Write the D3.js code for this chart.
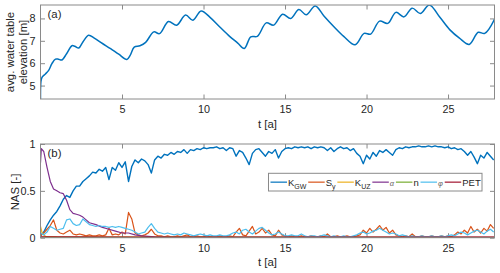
<!DOCTYPE html>
<html>
<head>
<meta charset="utf-8">
<script src="https://cdn.jsdelivr.net/npm/d3@7"></script>
<style>
  body { margin: 0; background: #fff; }
  text { font-family: "Liberation Sans", Arial, Helvetica, sans-serif; fill: #262626; }
</style>
</head>
<body>
<svg id="chart" width="500" height="273"></svg>
<script>
// ---- data ----
// (a) average water table elevation [m] vs time [a]
const headT = [0, 0.03, 0.1, 0.3, 0.5, 0.7, 0.92, 1.1, 1.3, 1.6, 1.93, 2.1, 2.35, 2.6, 2.95,
  3.3, 3.8, 4.3, 4.8, 5.3, 5.5, 5.75, 6.1, 6.45, 6.95, 7.3, 7.85, 8.35, 8.9, 9.35, 9.85,
  10.4, 11.0, 11.6, 12.1, 12.5, 12.9, 13.3, 13.85, 14.3, 14.85, 15.35, 15.85, 16.3, 16.85,
  17.4, 18.0, 18.6, 19.3, 19.85, 20.25, 20.8, 21.3, 21.8, 22.3, 22.8, 23.3, 23.85,
  24.5, 25.1, 25.7, 26.3, 26.85, 27.25, 27.85];
const headVal = [4.4, 5.2, 5.38, 5.52, 5.68, 5.98, 6.18, 6.18, 6.14, 6.42, 6.78, 6.76, 6.68, 6.95, 7.25,
  7.12, 6.88, 6.65, 6.4, 6.17, 6.35, 6.72, 6.78, 6.93, 7.40, 7.32, 7.86, 7.70, 8.15, 7.92, 8.33,
  8.05, 7.62, 7.2, 6.9, 6.66, 7.18, 7.2, 7.8, 7.7, 8.19, 8.0, 8.4, 8.16, 8.56,
  8.1, 7.63, 7.2, 6.82, 7.33, 7.3, 7.88, 7.78, 8.27, 8.07, 8.46, 8.22, 8.6,
  8.05, 7.5, 7.12, 6.84, 7.38, 7.33, 7.96];

// (b) NAS, sampled every 0.2 a
const nasStep = 0.2;
const kgw = [0.02, 0.06, 0.13, 0.19, 0.24, 0.28, 0.34, 0.41, 0.45, 0.43, 0.50, 0.55, 0.55, 0.60, 0.63,
  0.66, 0.70, 0.69, 0.73, 0.71, 0.75, 0.62, 0.75, 0.72, 0.80, 0.75, 0.81, 0.60, 0.76, 0.83,
  0.80, 0.84, 0.82, 0.78, 0.69, 0.83, 0.87, 0.85, 0.89, 0.88, 0.91, 0.89, 0.92, 0.91, 0.94,
  0.90, 0.94, 0.93, 0.95, 0.94, 0.96, 0.95, 0.96, 0.96, 0.97, 0.95, 0.96, 0.93, 0.96, 0.95,
  0.87, 0.93, 0.91, 0.85, 0.78, 0.90, 0.94, 0.95, 0.91, 0.87, 0.92, 0.90, 0.94, 0.85, 0.92,
  0.95, 0.96, 0.95, 0.97, 0.96, 0.97, 0.96, 0.97, 0.95, 0.97, 0.96, 0.97, 0.96, 0.93, 0.96,
  0.92, 0.95, 0.97, 0.95, 0.96, 0.93, 0.95, 0.90, 0.87, 0.79, 0.88, 0.84, 0.91, 0.87, 0.93,
  0.91, 0.94, 0.91, 0.88, 0.94, 0.96, 0.95, 0.97, 0.96, 0.97, 0.97, 0.98, 0.97, 0.97, 0.98,
  0.97, 0.98, 0.97, 0.97, 0.96, 0.97, 0.95, 0.96, 0.94, 0.95, 0.92, 0.88, 0.92, 0.86, 0.79,
  0.88, 0.85, 0.91, 0.87, 0.83];
const sy = [0.02, 0.05, 0.09, 0.13, 0.19, 0.08, 0.05, 0.04, 0.06, 0.08, 0.04, 0.03, 0.04, 0.03, 0.02,
  0.03, 0.02, 0.02, 0.03, 0.02, 0.03, 0.10, 0.03, 0.04, 0.03, 0.06, 0.04, 0.27, 0.20, 0.05,
  0.03, 0.02, 0.03, 0.05, 0.09, 0.04, 0.02, 0.02, 0.01, 0.02, 0.01, 0.01, 0.02, 0.01, 0.02,
  0.03, 0.01, 0.01, 0.02, 0.01, 0.01, 0.02, 0.01, 0.01, 0.01, 0.02, 0.01, 0.01, 0.02, 0.01,
  0.06, 0.10, 0.03, 0.02, 0.07, 0.12, 0.04, 0.06, 0.10, 0.05, 0.08, 0.03, 0.02, 0.08, 0.03,
  0.02, 0.01, 0.02, 0.01, 0.01, 0.02, 0.01, 0.01, 0.02, 0.01, 0.01, 0.02, 0.01, 0.04, 0.01,
  0.01, 0.02, 0.01, 0.01, 0.02, 0.01, 0.01, 0.02, 0.03, 0.08, 0.05, 0.10, 0.06, 0.09, 0.13,
  0.08, 0.11, 0.05, 0.08, 0.03, 0.02, 0.01, 0.02, 0.01, 0.04, 0.01, 0.01, 0.02, 0.01, 0.01,
  0.02, 0.01, 0.01, 0.02, 0.01, 0.02, 0.01, 0.03, 0.06, 0.04, 0.08, 0.05, 0.12, 0.06, 0.09,
  0.05, 0.10, 0.07, 0.14, 0.10];
const phi = [0.05, 0.03, 0.06, 0.12, 0.10, 0.08, 0.09, 0.10, 0.19, 0.20, 0.15, 0.13, 0.14, 0.20, 0.17,
  0.14, 0.13, 0.12, 0.13, 0.12, 0.12, 0.11, 0.12, 0.11, 0.12, 0.11, 0.10, 0.09, 0.08, 0.06,
  0.04, 0.05, 0.06, 0.11, 0.15, 0.10, 0.06, 0.05, 0.04, 0.05, 0.04, 0.03, 0.04, 0.03, 0.05,
  0.04, 0.03, 0.02, 0.03, 0.04, 0.03, 0.02, 0.03, 0.02, 0.02, 0.03, 0.02, 0.02, 0.03, 0.05,
  0.06, 0.04, 0.08, 0.09, 0.06, 0.04, 0.07, 0.10, 0.11, 0.08, 0.05, 0.03, 0.04, 0.06, 0.04,
  0.02, 0.02, 0.03, 0.02, 0.02, 0.04, 0.02, 0.01, 0.02, 0.02, 0.01, 0.02, 0.03, 0.02, 0.01,
  0.02, 0.01, 0.01, 0.02, 0.01, 0.01, 0.02, 0.03, 0.05, 0.06, 0.04, 0.05, 0.07, 0.08, 0.10,
  0.08, 0.06, 0.04, 0.05, 0.04, 0.02, 0.03, 0.02, 0.01, 0.02, 0.01, 0.01, 0.02, 0.01, 0.01,
  0.02, 0.01, 0.01, 0.02, 0.01, 0.02, 0.03, 0.02, 0.04, 0.06, 0.05, 0.03, 0.05, 0.07, 0.08,
  0.06, 0.04, 0.07, 0.09, 0.06];
// sparser series
const alphaT = [0, 0.05, 0.2, 0.4, 0.6, 0.8, 1.0, 1.2, 1.4, 1.6, 1.8, 2.0, 2.2, 2.4, 2.6, 2.8, 3.0,
  3.4, 3.8, 4.2, 4.6, 5.0, 5.4, 5.8, 6.2, 6.6, 7.0, 8.0, 27.85];
const alphaVal = [0.80, 0.95, 0.92, 0.75, 0.60, 0.52, 0.50, 0.48, 0.47, 0.40, 0.30, 0.26, 0.25, 0.24, 0.22, 0.19, 0.16,
  0.14, 0.11, 0.09, 0.07, 0.05, 0.05, 0.03, 0.02, 0.015, 0.01, 0.005, 0.005];
const kuzT = [0, 0.1, 0.3, 1.0, 27.85];
const kuzVal = [0.12, 0.05, 0.015, 0.008, 0.004];
const nT = [0, 27.85];
const nVal = [0.003, 0.002];
const petT = [0, 2, 6, 27.85];
const petVal = [0.01, 0.008, 0.006, 0.006];

const legendNames = [
  {main: "K", sub: "GW"}, {main: "S", sub: "y"}, {main: "K", sub: "UZ"},
  {main: "\u03B1", greek: true}, {main: "n"}, {main: "\u03C6", greek: true}, {main: "PET"}
];
const colors = ["#0072BD", "#D95319", "#EDB120", "#7E2F8E", "#77AC30", "#4DBEEE", "#A2142F"];

const xTicks = [5, 10, 15, 20, 25];

// ---- layout ----
const svg = d3.select("#chart");
const left = 40.5, right = 494.5;
const boxA = {top: 5, bottom: 99};
const boxB = {top: 144, bottom: 237.7};
const axisGrey = "#8a8a8a";

const x = d3.scaleLinear().domain([0, 27.85]).range([left, right]);
const yA = d3.scaleLinear().domain([4.4, 8.6]).range([boxA.bottom, boxA.top]);
const yB = d3.scaleLinear().domain([0, 1]).range([boxB.bottom, boxB.top]);

function drawFrame(box, y, yTicks, yFmt, id) {
  const g = svg.append("g");
  g.append("rect")
    .attr("x", left).attr("y", box.top)
    .attr("width", right - left).attr("height", box.bottom - box.top)
    .attr("fill", "#fff");

  const bottom = g.append("g").attr("transform", `translate(0,${box.bottom})`)
    .call(d3.axisBottom(x).tickValues(xTicks).tickSizeInner(-4.5).tickSizeOuter(0).tickPadding(6.5));
  const top = g.append("g").attr("transform", `translate(0,${box.top})`)
    .call(d3.axisTop(x).tickValues(xTicks).tickSizeInner(-4.5).tickSizeOuter(0).tickFormat(""));
  const leftAx = g.append("g").attr("transform", `translate(${left},0)`)
    .call(d3.axisLeft(y).tickValues(yTicks).tickSizeInner(-4.5).tickSizeOuter(0).tickPadding(5).tickFormat(yFmt));
  const rightAx = g.append("g").attr("transform", `translate(${right},0)`)
    .call(d3.axisRight(y).tickValues(yTicks).tickSizeInner(-4.5).tickSizeOuter(0).tickFormat(""));

  [bottom, top, leftAx, rightAx].forEach(a => {
    a.select(".domain").remove();
    a.selectAll(".tick line").attr("stroke", axisGrey);
    a.selectAll("text").attr("fill", "#262626").style("font-size", "10.8px")
      .style("font-family", '"Liberation Sans", Arial, sans-serif');
  });

  svg.append("clipPath").attr("id", id)
    .append("rect").attr("x", left).attr("y", box.top)
    .attr("width", right - left).attr("height", box.bottom - box.top);
  return g;
}

function drawBox(box) {
  svg.append("rect")
    .attr("x", left).attr("y", box.top)
    .attr("width", right - left).attr("height", box.bottom - box.top)
    .attr("fill", "none").attr("stroke", axisGrey).attr("stroke-width", 1);
}

// ---- panel (a) ----
drawFrame(boxA, yA, [5, 6, 7, 8], d3.format("d"), "clipA");
const headData = headT.map((t, i) => [t, headVal[i]]);
svg.append("path")
  .datum(headData)
  .attr("clip-path", "url(#clipA)")
  .attr("fill", "none")
  .attr("stroke", colors[0])
  .attr("stroke-width", 1.5)
  .attr("d", d3.line().x(d => x(d[0])).y(d => yA(d[1])).curve(d3.curveCatmullRom.alpha(0.5)));
drawBox(boxA);

svg.append("text").attr("x", 47.5).attr("y", 18).style("font-size", "11.4px").text("(a)");
svg.append("text").attr("x", (left + right) / 2).attr("y", 128)
  .attr("text-anchor", "middle").style("font-size", "11.4px").text("t [a]");
svg.append("text").attr("transform", "translate(14,52) rotate(-90)")
  .attr("text-anchor", "middle").style("font-size", "11.4px").text("avg. water table");
svg.append("text").attr("transform", "translate(27,52) rotate(-90)")
  .attr("text-anchor", "middle").style("font-size", "11.4px").text("elevation [m]");

// ---- panel (b) ----
drawFrame(boxB, yB, [0, 0.5, 1], d => d === 0.5 ? "0.5" : d3.format("d")(d), "clipB");

const grid = kgw.map((_, i) => i * nasStep);
const nasSeries = [
  grid.map((t, i) => [t, kgw[i]]),
  grid.map((t, i) => [t, sy[i]]),
  kuzT.map((t, i) => [t, kuzVal[i]]),
  alphaT.map((t, i) => [t, alphaVal[i]]),
  nT.map((t, i) => [t, nVal[i]]),
  grid.map((t, i) => [t, phi[i]]),
  petT.map((t, i) => [t, petVal[i]])
];
const lineB = d3.line().x(d => x(d[0])).y(d => yB(d[1]));
svg.append("g").attr("clip-path", "url(#clipB)")
  .selectAll("path")
  .data(nasSeries)
  .enter()
  .append("path")
    .attr("fill", "none")
    .attr("stroke", (d, i) => colors[i])
    .attr("stroke-width", (d, i) => i === 0 ? 1.4 : 1.2)
    .attr("stroke-linejoin", "round")
    .attr("d", lineB);
drawBox(boxB);

svg.append("text").attr("x", 47.5).attr("y", 157).style("font-size", "11.4px").text("(b)");
svg.append("text").attr("x", (left + right) / 2).attr("y", 266)
  .attr("text-anchor", "middle").style("font-size", "11.4px").text("t [a]");
svg.append("text").attr("transform", "translate(19,192) rotate(-90)")
  .attr("text-anchor", "middle").style("font-size", "11.4px").text("NAS [-]");

// ---- legend ----
const legRight = 482, legTop = 173.3, legH = 17.7, lineLen = 16.5;
const leg = svg.append("g");
const legBg = leg.append("rect");
let cx = 0;
legendNames.forEach((e, i) => {
  const it = leg.append("g");
  it.append("line").attr("x1", cx).attr("x2", cx + lineLen)
    .attr("y1", legTop + legH / 2).attr("y2", legTop + legH / 2)
    .attr("stroke", colors[i]).attr("stroke-width", 1.2);
  const tx = it.append("text").attr("x", cx + lineLen + 1).attr("y", legTop + 12.8)
    .style("font-size", "9.5px");
  if (e.greek) {
    tx.append("tspan").style("font-size", "7.5px").style("font-style", "italic").attr("fill", "#666").text(e.main);
  } else {
    tx.append("tspan").text(e.main);
  }
  if (e.sub) tx.append("tspan").attr("dy", 2.5).style("font-size", "7px").text(e.sub);
  cx += lineLen + 1 + tx.node().getComputedTextLength() + 1.8;
});
const legW = cx + 1.5;
const legLeft = legRight - legW;
leg.selectAll("g").attr("transform", `translate(${legLeft + 2},0)`);
legBg.attr("x", legLeft).attr("y", legTop).attr("width", legW).attr("height", legH)
  .attr("fill", "#fff").attr("stroke", axisGrey).attr("stroke-width", 1);
</script>
</body>
</html>
